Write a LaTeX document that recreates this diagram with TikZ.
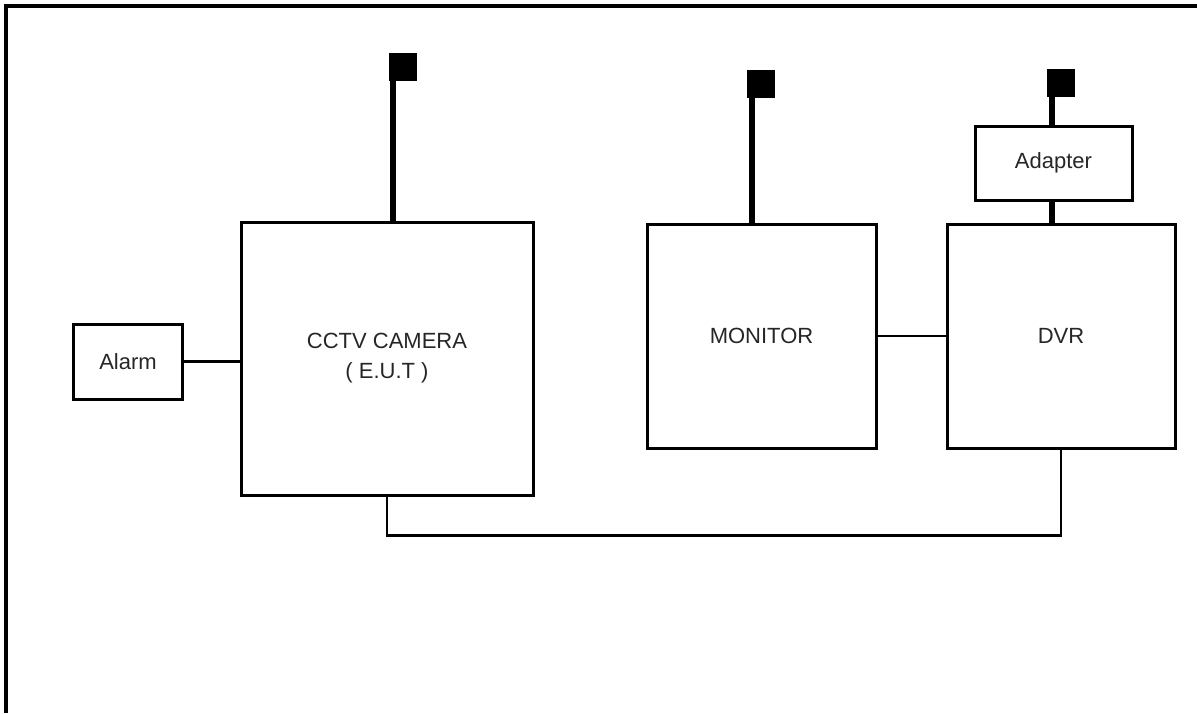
\documentclass[tikz,border=0pt]{standalone}
\usepackage{fontspec}
\setmainfont{Liberation Sans}
\usetikzlibrary{calc}

\begin{document}
\begin{tikzpicture}[x=1pt, y=-1pt,
    box/.style={draw, line width=3pt, inner sep=0pt, align=center, text=black!85, font=\fontsize{22}{30}\selectfont},
    plug/.style={fill=black, minimum size=28pt, inner sep=0pt},
    stick/.style={line width=6pt},
    wire/.style={line width=2.5pt}
]
\useasboundingbox (0,0) rectangle (1197,713);
\draw[line width=3.5pt] (6,713) -- (6,6) -- (1197,6);

\node[box, minimum width=109pt, minimum height=75pt] (alarm) at (128,361.5) {Alarm};
\node[box, minimum width=292pt, minimum height=273pt] (cam) at (387,358.5) {CCTV CAMERA\\( E.U.T )};
\node[box, minimum width=229pt, minimum height=224pt] (mon) at (761.5,336) {MONITOR};
\node[box, minimum width=228pt, minimum height=224pt] (dvr) at (1061,336) {DVR};
\node[box, minimum width=157pt, minimum height=74pt] (adapter) at (1053.5,163) {Adapter};

\node[plug] (camplug) at (403,67) {};
\node[plug] (monplug) at (761,84) {};
\node[plug] (dvrplug) at (1061,83) {};

\draw[stick] ([xshift=4.5pt]camplug.south west) -- ([xshift=4.5pt]camplug.south west |- cam.north);
\draw[stick] ([xshift=5.5pt]monplug.south west) -- ([xshift=5.5pt]monplug.south west |- mon.north);
\draw[stick] ([xshift=5pt]dvrplug.south west) -- ([xshift=5pt]dvrplug.south west |- adapter.north);
\draw[stick] ([xshift=-1.5pt]adapter.south) -- ([xshift=-1.5pt]adapter.south |- dvr.north);

\draw[wire] (alarm.east) -- (alarm.east -| cam.west);
\draw[wire] (mon.east) -- (dvr.west);
\draw[wire] (cam.south) -- ++(0,39) -| (dvr.south);
\end{tikzpicture}
\end{document}
